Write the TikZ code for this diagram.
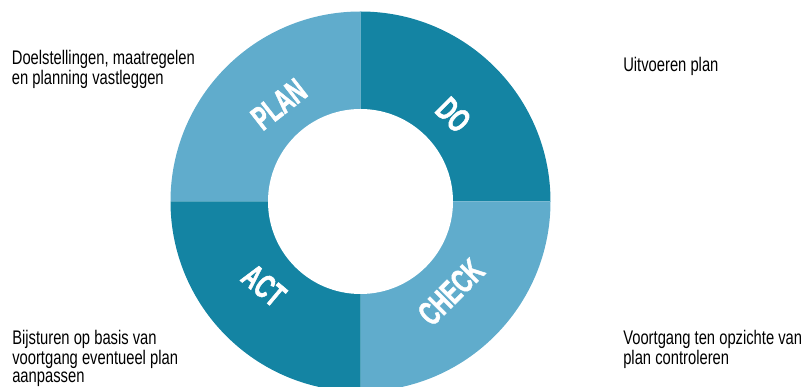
\documentclass[tikz,border=0pt]{standalone}
\usepackage{fontspec}
\setmainfont{Liberation Sans}[FakeStretch=0.75]
\newfontfamily\stepfont{Liberation Sans Bold}[FakeStretch=0.64, FakeBold=1.5]
\usepackage{xcolor}
\definecolor{pdcalight}{RGB}{96,172,204}
\definecolor{pdcadark}{RGB}{20,132,163}

\begin{document}
\begin{tikzpicture}

	\useasboundingbox (0,0) rectangle (20.025,9.675);
	\clip (0,0) rectangle (20.025,9.675);
	\coordinate (c) at (9.0125,4.6375);

	\fill[pdcalight] (c) -- ++(90:4.75) arc (90:180:4.75) -- cycle;
	\fill[pdcadark] (c) -- ++(0:4.75) arc (0:90:4.75) -- cycle;
	\fill[pdcalight] (c) -- ++(-90:4.75) arc (-90:0:4.75) -- cycle;
	\fill[pdcadark] (c) -- ++(180:4.75) arc (180:270:4.75) -- cycle;
	\fill[white] (c) circle(2.3125);

	\node[white, rotate=38] (plan) at ([shift={(130:3.175)}]c) {\stepfont\fontsize{24}{24}\selectfont PLAN};
	\node[white, rotate=-45] (do) at ([shift={(43:3.175)}]c) {\stepfont\fontsize{24}{24}\selectfont DO};
	\node[white, rotate=45] (check) at ([shift={(-45:3.2)}]c) {\stepfont\fontsize{24}{24}\selectfont CHECK};
	\node[white, rotate=-40] (act) at ([shift={(221:3.2)}]c) {\stepfont\fontsize{24}{24}\selectfont ACT};

	\node[anchor=north west, align=left, inner sep=0, font=\fontsize{14}{12.8}\selectfont] (plantext) at (0.29,8.425) {Doelstellingen, maatregelen\\en planning vastleggen};
	\node[anchor=north west, align=left, inner sep=0, font=\fontsize{14}{12.8}\selectfont] (dotext) at (15.575,8.2625) {Uitvoeren plan};
	\node[anchor=north west, align=left, inner sep=0, font=\fontsize{14}{12.8}\selectfont] (acttext) at (0.30,1.425) {Bijsturen op basis van\\voortgang eventueel plan\\aanpassen};
	\node[anchor=north west, align=left, inner sep=0, font=\fontsize{14}{12.8}\selectfont] (checktext) at (15.575,1.425) {Voortgang ten opzichte van\\plan controleren};

\end{tikzpicture}
\end{document}
